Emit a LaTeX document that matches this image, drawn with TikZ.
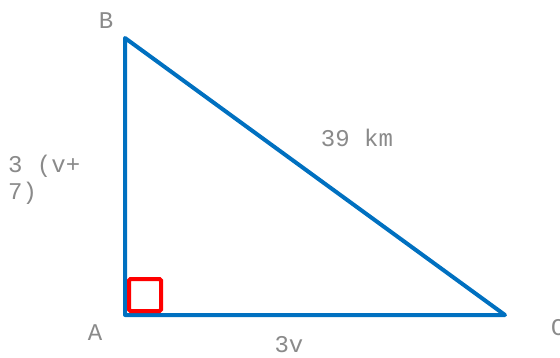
\documentclass[tikz,border=0pt]{standalone}
\usepackage{fontspec}
\setmonofont{Liberation Mono}
\definecolor{triblue}{HTML}{0070C0}
\definecolor{lblgray}{HTML}{8A8A8A}
\begin{document}
\begin{tikzpicture}[x=1pt,y=-1pt,
  lbl/.style={font=\ttfamily\fontsize{24}{27}\selectfont, text=lblgray, inner sep=0pt},
  side/.style={draw=triblue, line width=4pt, line join=round, line cap=round},
  rightang/.style={draw=red, line width=4pt, rounded corners=1.5pt}]
\useasboundingbox (0,0) rectangle (560,357);
\coordinate (A) at (125,315);
\coordinate (B) at (125,38);
\coordinate (C) at (505,315);
\draw[side] (A) -- (B) -- (C) -- cycle;
\draw[rightang] (129,279) rectangle (161,311);
\node[lbl] (lB) at (106,21) {B};
\node[lbl] (lA) at (95,333) {A};
\node[lbl] (lC) at (558,328) {C};
\node[lbl] (l3v) at (289,345) {3v};
\node[lbl] (lhyp) at (357,138) {39 km};
\node[lbl, anchor=west] (lleg1) at (8,166) {3 (v+};
\node[lbl, anchor=west] (lleg2) at (8,193) {7)};
\end{tikzpicture}
\end{document}
